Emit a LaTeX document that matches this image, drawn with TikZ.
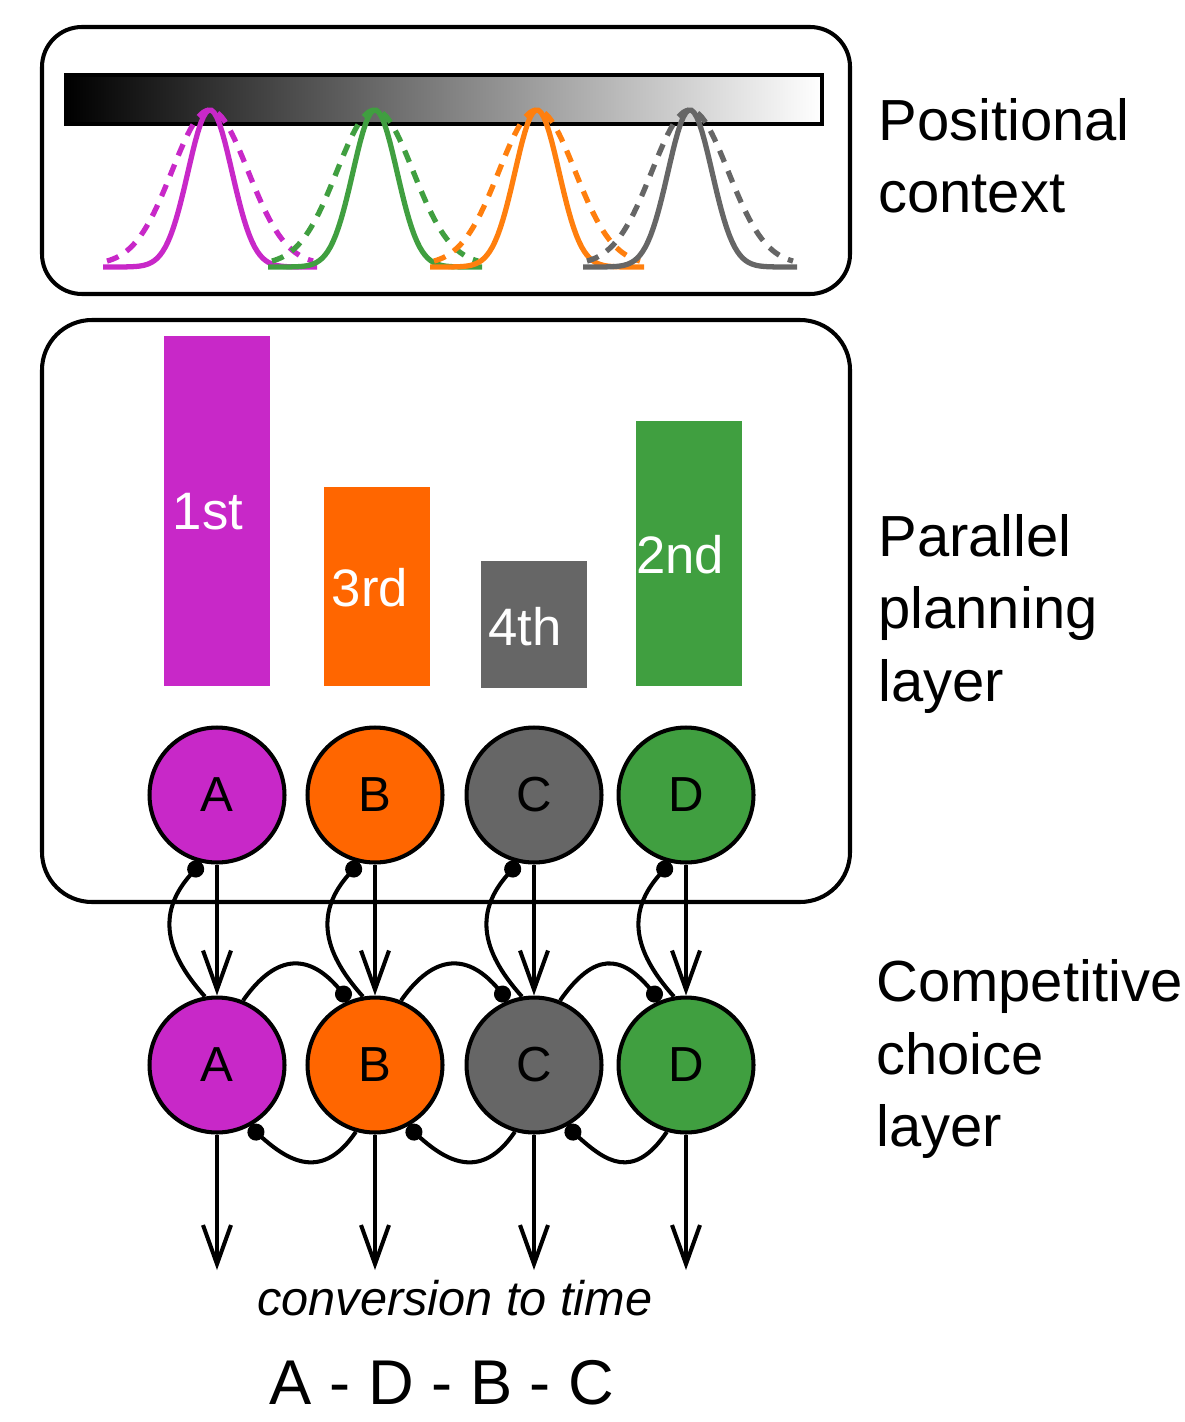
\documentclass[tikz,border=0pt]{standalone}
\usepackage{fontspec}
\setmainfont{Liberation Sans}
\usetikzlibrary{arrows.meta}
\definecolor{mag}{HTML}{C828C8}
\definecolor{org}{HTML}{FF6600}
\definecolor{orgline}{HTML}{FF7F0E}
\definecolor{gry}{HTML}{666666}
\definecolor{grn}{HTML}{409F40}
\tikzset{
  unit/.style={circle,draw,line width=2.3pt,minimum size=2.7cm,inner sep=0pt,
    font=\fontsize{28}{28}\selectfont},
  barlabel/.style={text=white,inner sep=0pt,font=\fontsize{30}{30}\selectfont},
  fwd/.style={line width=2.3pt,-{Straight Barb[length=0.78cm,width=0.56cm]}},
  inh/.style={line width=2.3pt,-{Circle[length=0.34cm]}},
  tune/.style={line width=3pt},
  wide/.style={line width=3pt,dash pattern=on 7pt off 5.5pt},
  layername/.style={anchor=west,align=left,inner sep=0pt,
    font=\fontsize{33}{41}\selectfont},
}
\begin{document}
\begin{tikzpicture}[x=0.02cm,y=0.02cm]
  \useasboundingbox (0,0) rectangle (1185,-1422);
  % positional context
  \draw[line width=2.3pt,rounded corners=0.8cm] (42,-27) rectangle (850,-294);
  \draw[line width=2.3pt,left color=black,right color=white] (66,-75) rectangle (822,-124);
  \draw[wide,mag] plot[domain=-103:103,samples=80] ({210+\x},{-265+155*exp(-\x*\x/2888)});
  \draw[tune,mag] plot[domain=-107:107,samples=80] ({210+\x},{-267+157*exp(-\x*\x/968)});
  \draw[wide,grn] plot[domain=-103:103,samples=80] ({375+\x},{-265+155*exp(-\x*\x/2888)});
  \draw[tune,grn] plot[domain=-107:107,samples=80] ({375+\x},{-267+157*exp(-\x*\x/968)});
  \draw[wide,orgline] plot[domain=-103:103,samples=80] ({537+\x},{-265+155*exp(-\x*\x/2888)});
  \draw[tune,orgline] plot[domain=-107:107,samples=80] ({537+\x},{-267+157*exp(-\x*\x/968)});
  \draw[wide,gry] plot[domain=-103:103,samples=80] ({690+\x},{-265+155*exp(-\x*\x/2888)});
  \draw[tune,gry] plot[domain=-107:107,samples=80] ({690+\x},{-267+157*exp(-\x*\x/968)});
  % parallel planning
  \draw[line width=2.3pt,rounded corners=1cm] (42,-320) rectangle (850,-902);
  \fill[mag] (164,-336) rectangle (270,-686);
  \fill[org] (324,-487) rectangle (430,-686);
  \fill[gry] (481,-561) rectangle (587,-688);
  \fill[grn] (636,-421) rectangle (742,-686);
  \node[barlabel] (r1) at (208,-512) {1st};
  \node[barlabel] (r3) at (370,-588) {3rd};
  \node[barlabel] (r4) at (525,-627) {4th};
  \node[barlabel] (r2) at (680,-555) {2nd};
  \node[unit,fill=mag] (pA) at (217,-795) {A};
  \node[unit,fill=org] (pB) at (375,-795) {B};
  \node[unit,fill=gry] (pC) at (534,-795) {C};
  \node[unit,fill=grn] (pD) at (686,-795) {D};
  % competitive choice
  \node[unit,fill=mag] (cA) at (217,-1065) {A};
  \node[unit,fill=org] (cB) at (375,-1065) {B};
  \node[unit,fill=gry] (cC) at (534,-1065) {C};
  \node[unit,fill=grn] (cD) at (686,-1065) {D};
  \draw[fwd] (pA) -- (cA);
  \draw[fwd] (pB) -- (cB);
  \draw[fwd] (pC) -- (cC);
  \draw[fwd] (pD) -- (cD);
  \draw[inh] (cA.100) .. controls +(132:64) and +(228:64) .. (pA.-103);
  \draw[inh] (cB.100) .. controls +(132:64) and +(228:64) .. (pB.-103);
  \draw[inh] (cC.100) .. controls +(132:64) and +(228:64) .. (pC.-103);
  \draw[inh] (cD.100) .. controls +(132:64) and +(228:64) .. (pD.-103);
  \draw[inh] (cA.68) .. controls +(55:60) and +(130:60) .. (cB.112);
  \draw[inh] (cB.68) .. controls +(55:60) and +(130:60) .. (cC.112);
  \draw[inh] (cC.68) .. controls +(55:60) and +(130:60) .. (cD.112);
  \draw[inh] (cB.254) .. controls +(236:60) and +(-42:52) .. (cA.-62);
  \draw[inh] (cC.254) .. controls +(236:60) and +(-42:52) .. (cB.-62);
  \draw[inh] (cD.254) .. controls +(236:60) and +(-42:52) .. (cC.-62);
  \coordinate (tA) at (217,-1270);
  \coordinate (tB) at (375,-1270);
  \coordinate (tC) at (534,-1270);
  \coordinate (tD) at (686,-1270);
  \draw[fwd] (cA) -- (tA);
  \draw[fwd] (cB) -- (tB);
  \draw[fwd] (cC) -- (tC);
  \draw[fwd] (cD) -- (tD);
  \node[font=\fontsize{27.7}{30}\selectfont\itshape] (conv) at (455,-1298) {conversion to time};
  \node[font=\fontsize{36}{40}\selectfont] (order) at (442,-1383) {A - D - B - C};
  % layer names
  \node[layername] (lctx) at (878,-156) {Positional\\context};
  \node[layername] (lplan) at (878,-614) {Parallel\\planning\\layer};
  \node[layername] (lchoice) at (876,-1059) {Competitive\\choice\\layer};
\end{tikzpicture}
\end{document}
